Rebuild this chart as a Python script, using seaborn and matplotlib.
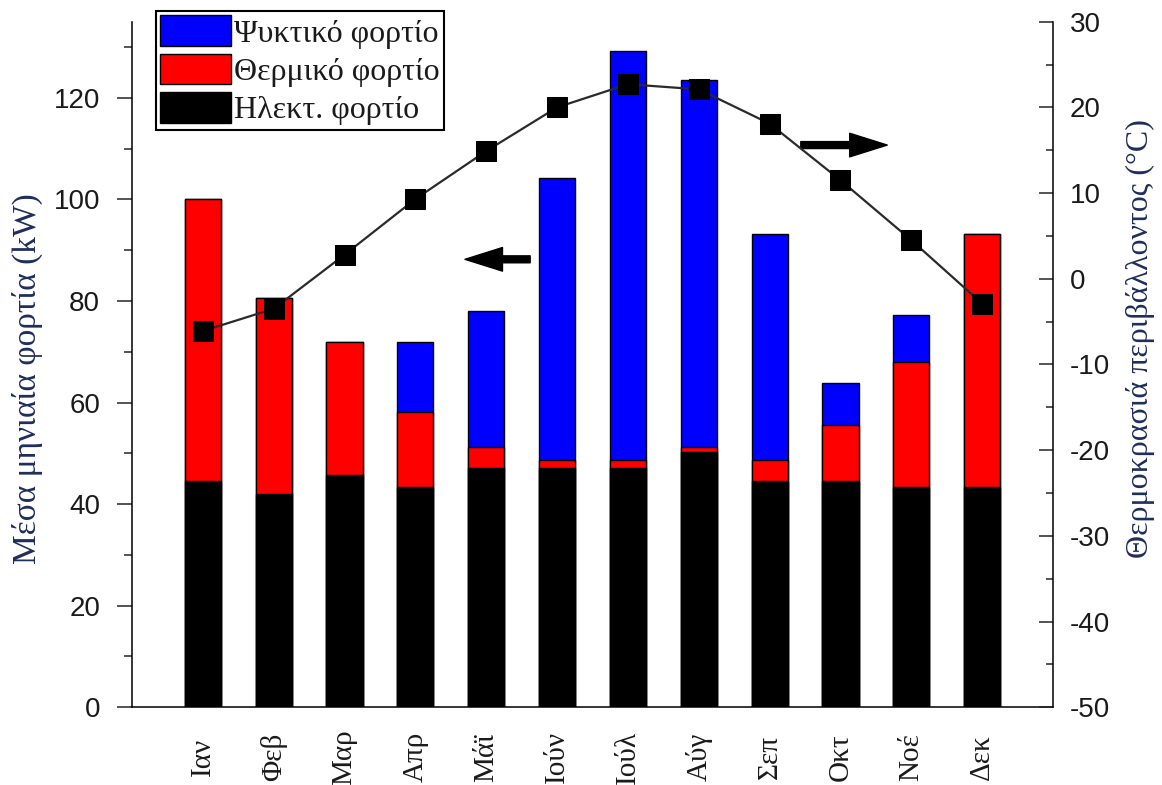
import numpy as np
import matplotlib
matplotlib.use("Agg")
import matplotlib.pyplot as plt
from matplotlib.patches import Patch
from matplotlib.ticker import MultipleLocator
import seaborn as sns

# Monthly mean loads (kW) and ambient temperature (°C)
months = ["Ιαν", "Φεβ", "Μαρ", "Απρ", "Μάϊ", "Ιούν", "Ιούλ", "Αύγ", "Σεπ", "Οκτ", "Νοέ", "Δεκ"]
electric = [44.5, 42.0, 45.8, 43.3, 47.2, 47.2, 47.2, 50.3, 44.5, 44.5, 43.3, 43.3]
heating = [55.5, 38.6, 26.1, 14.8, 4.1, 1.5, 1.5, 1.0, 4.2, 11.1, 24.7, 49.8]
cooling = [0.0, 0.0, 0.0, 13.8, 26.8, 55.6, 80.5, 72.3, 44.4, 8.3, 9.2, 0.0]
temperature = [-6.1, -3.5, 2.8, 9.3, 14.9, 20.0, 22.7, 22.1, 18.1, 11.5, 4.5, -2.9]

legend_labels = ["Ψυκτικό φορτίο", "Θερμικό φορτίο", "Ηλεκτ. φορτίο"]
left_label = "Μέσα μηνιαία φορτία (kW)"
right_label = "Θερμοκρασιά περιβάλλοντος (°C)"

sns.set_style("white")
plt.rcParams["font.family"] = ["Liberation Sans", "DejaVu Sans"]
plt.rcParams["axes.unicode_minus"] = False
SERIF = ["Liberation Serif", "DejaVu Serif"]
TEXT_COLOR = "#1a1a1a"
LABEL_COLOR = "#1f2d5c"

elec = np.array(electric)
heat_top = elec + np.array(heating)
cool_top = heat_top + np.array(cooling)

fig = plt.figure(figsize=(11.62, 7.85), dpi=100)
ax = fig.add_axes([0.1136, 0.0991, 0.9062 - 0.1136, 0.9724 - 0.0991])

# Stacked bars drawn as overlapping cumulative layers
bar_kw = dict(order=months, saturation=1, width=0.51, edgecolor="black", linewidth=1.0, ax=ax)
sns.barplot(x=months, y=cool_top, color="#0000ff", **bar_kw)
sns.barplot(x=months, y=heat_top, color="#ff0000", **bar_kw)
sns.barplot(x=months, y=elec, color="#000000", **bar_kw)

ax.set_ylim(0, 135)
ax.yaxis.set_major_locator(MultipleLocator(20))
ax.yaxis.set_minor_locator(MultipleLocator(10))
ax.set_ylabel(left_label, fontfamily=SERIF, fontsize=24, color=LABEL_COLOR)
ax.yaxis.set_label_coords(-0.0966, 0.480)
ax.set_xlabel("")

# Temperature curve on the secondary axis
ax2 = ax.twinx()
sns.lineplot(x=np.arange(len(months)), y=temperature, ax=ax2, color="#2a2a2a", linewidth=1.6,
             marker="s", markersize=14, markerfacecolor="black", markeredgecolor="black")
ax2.set_ylim(-50, 30)
ax2.yaxis.set_major_locator(MultipleLocator(10))
ax2.yaxis.set_minor_locator(MultipleLocator(5))
ax2.set_ylabel(right_label, fontfamily=SERIF, fontsize=23, color=LABEL_COLOR)
ax2.yaxis.set_label_coords(1.0795, 0.538)
rl = ax2.yaxis.label
rl.set_rotation(90)
rl.set_rotation_mode("anchor")
rl.set_horizontalalignment("center")
rl.set_verticalalignment("top")

ax.set_xlim(-1, 12)
ax.set_xticks(np.arange(-1, 13), [""] + months + [""], rotation=90, va="center",
              fontfamily=SERIF, fontsize=21, color=TEXT_COLOR)

ax.tick_params(axis="x", which="major", direction="out", length=10, width=1.1, pad=26)
ax.tick_params(axis="y", which="major", direction="out", length=11, width=1.1, pad=12,
               labelsize=20, labelcolor=TEXT_COLOR)
ax.tick_params(axis="y", which="minor", direction="out", length=5.5, width=1.1)
ax2.tick_params(axis="y", which="major", direction="in", length=10, width=1.1, pad=12,
                labelsize=20, labelcolor=TEXT_COLOR)
ax2.tick_params(axis="y", which="minor", direction="in", length=5, width=1.1)

for sp in ["top", "right"]:
    ax.spines[sp].set_visible(False)
for sp in ["top", "left", "bottom"]:
    ax2.spines[sp].set_visible(False)
for sp in ["left", "bottom"]:
    ax.spines[sp].set_linewidth(1.1)
    ax.spines[sp].set_color("black")
ax2.spines["right"].set_linewidth(1.1)
ax2.spines["right"].set_color("black")

# Direction arrows pointing to the relevant axis
arrow_style = "simple,head_length=2.7,head_width=1.7,tail_width=0.5"
ax.annotate("", xy=(3.70, 88.2), xytext=(4.62, 88.2),
            arrowprops=dict(arrowstyle=arrow_style, mutation_scale=10, color="black",
                            shrinkA=0, shrinkB=0))
ax.annotate("", xy=(9.66, 110.7), xytext=(8.44, 110.7),
            arrowprops=dict(arrowstyle=arrow_style, mutation_scale=10, color="black",
                            shrinkA=0, shrinkB=0))

handles = [Patch(facecolor=c, edgecolor="black", linewidth=1.0)
           for c in ["#0000ff", "#ff0000", "#000000"]]
leg = fig.legend(handles, legend_labels, loc="upper left",
                 bbox_to_anchor=(155.7 / 1162, 1 - 10.7 / 785), bbox_transform=fig.transFigure,
                 frameon=True, fancybox=False, framealpha=1, edgecolor="black",
                 borderpad=0.15, labelspacing=0.16, handlelength=2.2, handleheight=1.1,
                 handletextpad=0.1, borderaxespad=0,
                 prop={"family": SERIF, "size": 23})
leg.get_frame().set_linewidth(1.5)
for t in leg.get_texts():
    t.set_color(TEXT_COLOR)

fig.savefig("out.png", dpi=100, facecolor="white")
